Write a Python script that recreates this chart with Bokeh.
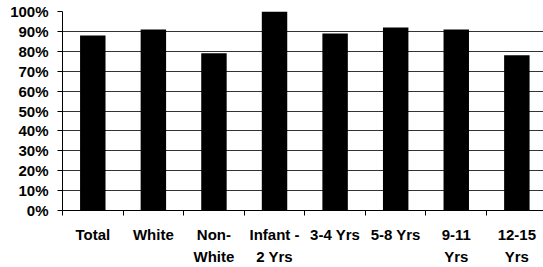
from bokeh.plotting import figure
from bokeh.models import FixedTicker, PrintfTickFormatter, Range1d, ColumnDataSource
from bokeh.embed import file_html
from bokeh.resources import INLINE

categories = ["Total", "White", "Non-\nWhite", "Infant -\n2 Yrs", "3-4 Yrs", "5-8 Yrs", "9-11\nYrs", "12-15\nYrs"]
values = [88, 91, 79, 100, 89, 92, 91, 78]
y_ticks = [0, 10, 20, 30, 40, 50, 60, 70, 80, 90, 100]

centers = [i + 0.5 for i in range(len(categories))]
boundaries = list(range(len(categories)))

src = ColumnDataSource(dict(x=centers, top=values))

p = figure(width=543, height=267, output_backend="svg", toolbar_location=None,
           x_range=Range1d(0, 7.94), y_range=Range1d(0, 100),
           min_border_left=62, min_border_top=11, min_border_bottom=54, min_border_right=0)
p.outline_line_color = None
p.background_fill_color = "white"
p.border_fill_color = "white"

p.vbar(x="x", top="top", width=0.42, source=src, fill_color="black", line_color=None)

font = "Liberation Sans"

xa = p.xaxis[0]
xa.ticker = FixedTicker(ticks=centers, minor_ticks=boundaries)
xa.major_label_overrides = {c: lab for c, lab in zip(centers, categories)}
xa.major_tick_out = 0
xa.major_tick_in = 0
xa.minor_tick_out = 5
xa.minor_tick_in = 0
xa.minor_tick_line_color = "black"
xa.axis_line_color = "black"
xa.major_label_standoff = 10
xa.major_label_text_font = font
xa.major_label_text_font_style = "bold"
xa.major_label_text_font_size = "15px"
xa.major_label_text_color = "black"
xa.major_label_text_line_height = 1.3

ya = p.yaxis[0]
ya.ticker = FixedTicker(ticks=y_ticks, minor_ticks=[])
ya.formatter = PrintfTickFormatter(format="%d%%")
ya.major_tick_out = 5
ya.major_tick_in = 0
ya.major_tick_line_color = "black"
ya.axis_line_color = "black"
ya.major_label_standoff = 9
ya.major_label_text_font = font
ya.major_label_text_font_style = "bold"
ya.major_label_text_font_size = "15px"
ya.major_label_text_color = "black"

p.xgrid.grid_line_color = None
p.ygrid.ticker = FixedTicker(ticks=y_ticks)
p.ygrid.grid_line_color = "#333333"
p.ygrid.grid_line_width = 1

open("out.html", "w").write(file_html(p, INLINE))
